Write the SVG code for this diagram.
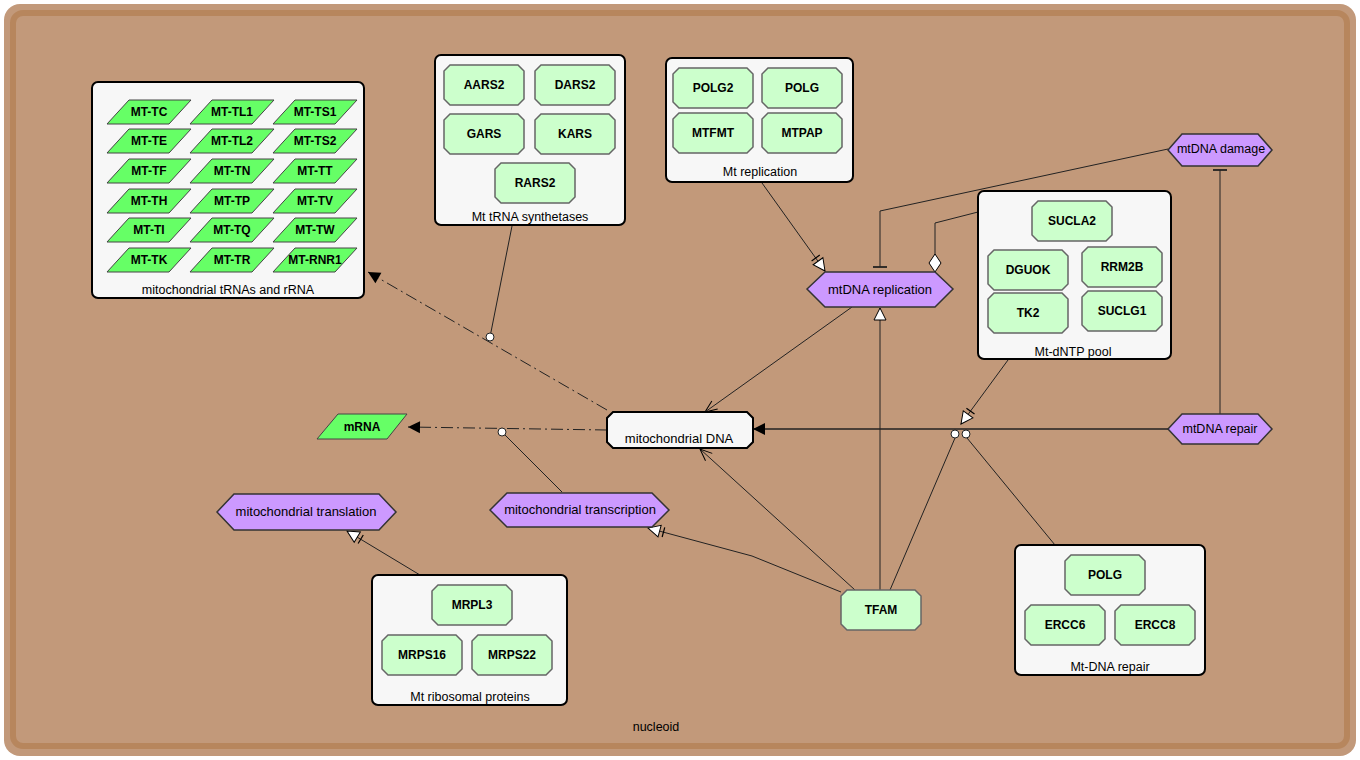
<svg xmlns="http://www.w3.org/2000/svg" xmlns:xlink="http://www.w3.org/1999/xlink" width="1360" height="760" viewBox="0 0 1360 760">
<style>
text{font-family:"Liberation Sans",Arial,sans-serif;font-size:12.5px;fill:#000;text-anchor:middle;dominant-baseline:central}
.gt{font-weight:bold;font-size:12px}
.ht{font-size:13px}
.grp{fill:#F7F7F7;stroke:#000;stroke-width:2}
.gene{fill:#CCFFCC;stroke:#666;stroke-width:1.5}
.rna{fill:#66FF66;stroke:#444;stroke-width:1}
.hex{fill:#CC99FF;stroke:#333;stroke-width:1.5}
.ln{fill:none;stroke:#222;stroke-width:1}
.dd{stroke-dasharray:12,4,2,4}
.anc{fill:#fff;stroke:#222;stroke-width:1}
</style>
<defs>
<path id="gn" d="M6,0 H74 L80,6 V34 L74,40 H6 L0,34 V6 Z"/>
<path id="pg" d="M22,0 H84 L62,24 H0 Z"/>
<marker id="mFill" markerUnits="userSpaceOnUse" markerWidth="14" markerHeight="14" refX="12" refY="6" orient="auto" overflow="visible"><path d="M0,0 L12,6 L0,12 Z" fill="#000"/></marker>
<marker id="mStim" markerUnits="userSpaceOnUse" markerWidth="14" markerHeight="14" refX="12" refY="6" orient="auto" overflow="visible"><path d="M0,0 L12,6 L0,12 Z" fill="#fff" stroke="#000" stroke-width="1"/><path d="M-4,1 L-4,11" stroke="#000" stroke-width="1.2"/></marker>
<marker id="mOpen" markerUnits="userSpaceOnUse" markerWidth="14" markerHeight="14" refX="12" refY="6" orient="auto" overflow="visible"><path d="M0,0 L12,6 L0,12 Z" fill="#fff" stroke="#000" stroke-width="1"/></marker>
<marker id="mT" markerUnits="userSpaceOnUse" markerWidth="16" markerHeight="16" refX="0" refY="0" orient="auto" overflow="visible"><path d="M0,-7 L0,7" stroke="#222" stroke-width="1.8"/></marker>
<marker id="mV" markerUnits="userSpaceOnUse" markerWidth="14" markerHeight="14" refX="12" refY="0" orient="auto" overflow="visible"><path d="M0,-5 L12,0 L0,5" fill="none" stroke="#000" stroke-width="1"/></marker>
<marker id="mDia" markerUnits="userSpaceOnUse" markerWidth="20" markerHeight="14" refX="18" refY="0" orient="auto" overflow="visible"><path d="M0,0 L9,-6 L18,0 L9,6 Z" fill="#fff" stroke="#000" stroke-width="1"/></marker>
</defs>

<g id="nucleoid">
<rect x="4" y="4" width="1352" height="752" rx="16" fill="#C2997A"/>
<rect x="13" y="13" width="1334" height="733" rx="10" fill="none" stroke="#B7865D" stroke-width="6"/>
<text x="656" y="727">nucleoid</text>
</g>

<g id="connectors">
<path class="ln" d="M512,226 L490,337"/>
<path class="ln dd" d="M607,410 L368,272" marker-end="url(#mFill)"/>
<path class="ln dd" d="M607,430 L408,427" marker-end="url(#mFill)"/>
<path class="ln" d="M502,432 L562,492"/>
<path class="ln" d="M762,183 L825,271" marker-end="url(#mStim)"/>
<path class="ln" d="M1168,149 L880,211 L880,267" marker-end="url(#mT)"/>
<path class="ln" d="M978,212 L935,223 L935,272" marker-end="url(#mDia)"/>
<path class="ln" d="M852,307 L705,412" marker-end="url(#mV)"/>
<path class="ln" style="stroke-width:1.5" d="M1168,429 L753,429" marker-end="url(#mFill)"/>
<path class="ln" d="M1220,414 L1220,170" marker-end="url(#mT)"/>
<path class="ln" d="M1008,360 L961,424" marker-end="url(#mStim)"/>
<path class="ln" d="M890,590 L955,438"/>
<path class="ln" d="M1055,545 L967,438"/>
<path class="ln" d="M880,590 L880,308" marker-end="url(#mOpen)"/>
<path class="ln" d="M855,590 L700,449" marker-end="url(#mV)"/>
<path class="ln" d="M841,592 L752,556 L648,528" marker-end="url(#mStim)"/>
<path class="ln" d="M420,575 L347,531" marker-end="url(#mStim)"/>
<circle class="anc" cx="490" cy="337" r="4"/>
<circle class="anc" cx="502" cy="432" r="4"/>
<circle class="anc" cx="955" cy="434" r="4"/>
<circle class="anc" cx="966" cy="434" r="4"/>
</g>

<g id="grp-trna">
<rect class="grp" x="92" y="82" width="272" height="216" rx="6"/>
<text x="228" y="290">mitochondrial tRNAs and rRNA</text>
</g>
<g id="MT-TC"><use href="#pg" class="rna" x="107" y="100"/><text class="gt" x="149" y="112">MT-TC</text></g>
<g id="MT-TL1"><use href="#pg" class="rna" x="190" y="100"/><text class="gt" x="232" y="112">MT-TL1</text></g>
<g id="MT-TS1"><use href="#pg" class="rna" x="273" y="100"/><text class="gt" x="315" y="112">MT-TS1</text></g>
<g id="MT-TE"><use href="#pg" class="rna" x="107" y="129"/><text class="gt" x="149" y="141">MT-TE</text></g>
<g id="MT-TL2"><use href="#pg" class="rna" x="190" y="129"/><text class="gt" x="232" y="141">MT-TL2</text></g>
<g id="MT-TS2"><use href="#pg" class="rna" x="273" y="129"/><text class="gt" x="315" y="141">MT-TS2</text></g>
<g id="MT-TF"><use href="#pg" class="rna" x="107" y="159"/><text class="gt" x="149" y="171">MT-TF</text></g>
<g id="MT-TN"><use href="#pg" class="rna" x="190" y="159"/><text class="gt" x="232" y="171">MT-TN</text></g>
<g id="MT-TT"><use href="#pg" class="rna" x="273" y="159"/><text class="gt" x="315" y="171">MT-TT</text></g>
<g id="MT-TH"><use href="#pg" class="rna" x="107" y="189"/><text class="gt" x="149" y="201">MT-TH</text></g>
<g id="MT-TP"><use href="#pg" class="rna" x="190" y="189"/><text class="gt" x="232" y="201">MT-TP</text></g>
<g id="MT-TV"><use href="#pg" class="rna" x="273" y="189"/><text class="gt" x="315" y="201">MT-TV</text></g>
<g id="MT-TI"><use href="#pg" class="rna" x="107" y="218"/><text class="gt" x="149" y="230">MT-TI</text></g>
<g id="MT-TQ"><use href="#pg" class="rna" x="190" y="218"/><text class="gt" x="232" y="230">MT-TQ</text></g>
<g id="MT-TW"><use href="#pg" class="rna" x="273" y="218"/><text class="gt" x="315" y="230">MT-TW</text></g>
<g id="MT-TK"><use href="#pg" class="rna" x="107" y="248"/><text class="gt" x="149" y="260">MT-TK</text></g>
<g id="MT-TR"><use href="#pg" class="rna" x="190" y="248"/><text class="gt" x="232" y="260">MT-TR</text></g>
<g id="MT-RNR1"><use href="#pg" class="rna" x="273" y="248"/><text class="gt" x="315" y="260">MT-RNR1</text></g>

<g id="grp-synth">
<rect class="grp" x="435" y="55" width="190" height="170" rx="6"/>
<text x="530" y="217">Mt tRNA synthetases</text>
</g>
<g id="AARS2"><use href="#gn" class="gene" x="444" y="65"/><text class="gt" x="484" y="85">AARS2</text></g>
<g id="DARS2"><use href="#gn" class="gene" x="535" y="65"/><text class="gt" x="575" y="85">DARS2</text></g>
<g id="GARS"><use href="#gn" class="gene" x="444" y="114"/><text class="gt" x="484" y="134">GARS</text></g>
<g id="KARS"><use href="#gn" class="gene" x="535" y="114"/><text class="gt" x="575" y="134">KARS</text></g>
<g id="RARS2"><use href="#gn" class="gene" x="495" y="163"/><text class="gt" x="535" y="183">RARS2</text></g>

<g id="grp-repl">
<rect class="grp" x="666" y="58" width="187" height="124" rx="6"/>
<text x="760" y="172">Mt replication</text>
</g>
<g id="POLG2"><use href="#gn" class="gene" x="673" y="68"/><text class="gt" x="713" y="88">POLG2</text></g>
<g id="POLG-a"><use href="#gn" class="gene" x="762" y="68"/><text class="gt" x="802" y="88">POLG</text></g>
<g id="MTFMT"><use href="#gn" class="gene" x="673" y="113"/><text class="gt" x="713" y="133">MTFMT</text></g>
<g id="MTPAP"><use href="#gn" class="gene" x="762" y="113"/><text class="gt" x="802" y="133">MTPAP</text></g>

<g id="grp-dntp">
<rect class="grp" x="978" y="191" width="193" height="168" rx="6"/>
<text x="1073" y="352">Mt-dNTP pool</text>
</g>
<g id="SUCLA2"><use href="#gn" class="gene" x="1032" y="201"/><text class="gt" x="1072" y="221">SUCLA2</text></g>
<g id="DGUOK"><use href="#gn" class="gene" x="988" y="250"/><text class="gt" x="1028" y="270">DGUOK</text></g>
<g id="RRM2B"><use href="#gn" class="gene" x="1082" y="247"/><text class="gt" x="1122" y="267">RRM2B</text></g>
<g id="TK2"><use href="#gn" class="gene" x="988" y="293"/><text class="gt" x="1028" y="313">TK2</text></g>
<g id="SUCLG1"><use href="#gn" class="gene" x="1082" y="291"/><text class="gt" x="1122" y="311">SUCLG1</text></g>

<g id="grp-dnarepair">
<rect class="grp" x="1015" y="545" width="190" height="130" rx="6"/>
<text x="1110" y="667">Mt-DNA repair</text>
</g>
<g id="POLG-b"><use href="#gn" class="gene" x="1065" y="555"/><text class="gt" x="1105" y="575">POLG</text></g>
<g id="ERCC6"><use href="#gn" class="gene" x="1025" y="605"/><text class="gt" x="1065" y="625">ERCC6</text></g>
<g id="ERCC8"><use href="#gn" class="gene" x="1115" y="605"/><text class="gt" x="1155" y="625">ERCC8</text></g>

<g id="grp-ribo">
<rect class="grp" x="372" y="575" width="195" height="130" rx="6"/>
<text x="470" y="697">Mt ribosomal proteins</text>
</g>
<g id="MRPL3"><use href="#gn" class="gene" x="432" y="585"/><text class="gt" x="472" y="605">MRPL3</text></g>
<g id="MRPS16"><use href="#gn" class="gene" x="382" y="635"/><text class="gt" x="422" y="655">MRPS16</text></g>
<g id="MRPS22"><use href="#gn" class="gene" x="472" y="635"/><text class="gt" x="512" y="655">MRPS22</text></g>

<g id="TFAM"><use href="#gn" class="gene" x="841" y="590"/><text class="gt" x="881" y="610">TFAM</text></g>

<g id="mtDNA">
<path d="M613,412 H747 L753,418 V442 L747,448 H613 L607,442 V418 Z" fill="#F7F7F7" stroke="#000" stroke-width="2"/>
<text class="ht" x="679" y="438">mitochondrial DNA</text>
</g>

<g id="mRNA">
<path class="rna" d="M338,414 H407 L387,439 H317 Z"/>
<text class="gt" x="362" y="427">mRNA</text>
</g>

<g id="mtDNA-replication">
<path class="hex" d="M807,289 L825,272 H935 L953,289 L935,307 H825 Z"/>
<text class="ht" x="880" y="289">mtDNA replication</text>
</g>
<g id="mtDNA-damage">
<path class="hex" d="M1168,150 L1182,134 H1258 L1272,150 L1258,166 H1182 Z"/>
<text x="1221" y="149">mtDNA damage</text>
</g>
<g id="mtDNA-repair">
<path class="hex" d="M1168,429 L1182,414 H1258 L1272,429 L1258,444 H1182 Z"/>
<text x="1220" y="429">mtDNA repair</text>
</g>
<g id="mt-translation">
<path class="hex" d="M217,512 L234,494 H379 L396,512 L379,530 H234 Z"/>
<text class="ht" x="306" y="511">mitochondrial translation</text>
</g>
<g id="mt-transcription">
<path class="hex" d="M490,510 L507,493 H652 L669,510 L652,527 H507 Z"/>
<text class="ht" x="580" y="509">mitochondrial transcription</text>
</g>
</svg>
